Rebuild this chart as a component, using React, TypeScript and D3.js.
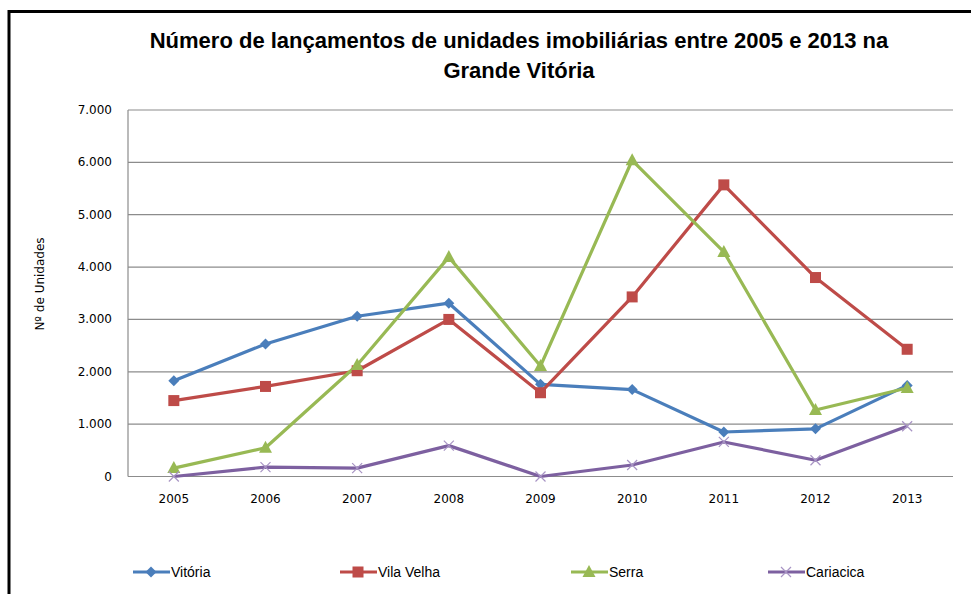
import React, { useEffect, useRef } from "react";
import * as d3 from "d3";

const years = ["2005", "2006", "2007", "2008", "2009", "2010", "2011", "2012", "2013"];
const vitoria = [1830, 2530, 3060, 3310, 1760, 1660, 850, 910, 1740];
const vilaVelha = [1450, 1720, 2020, 3000, 1600, 3430, 5570, 3800, 2430];
const serra = [160, 550, 2130, 4190, 2110, 6040, 4290, 1270, 1690];
const cariacica = [0, 180, 160, 590, 0, 220, 660, 310, 960];
const yTicks = [0, 1000, 2000, 3000, 4000, 5000, 6000, 7000];

const seriesList = [
  { name: "Vitória", values: vitoria, color: "#4A7EBB", marker: "diamond" },
  { name: "Vila Velha", values: vilaVelha, color: "#BE4B48", marker: "square" },
  { name: "Serra", values: serra, color: "#98B954", marker: "triangle" },
  { name: "Cariacica", values: cariacica, color: "#7D60A0", marker: "cross" },
];

const legendX = [133, 340, 571, 768];

function drawMarker(g: any, kind: string, x: number, y: number, color: string) {
  if (kind === "diamond") {
    g.append("path")
      .attr("d", `M${x},${y - 5.5}L${x + 5.5},${y}L${x},${y + 5.5}L${x - 5.5},${y}Z`)
      .attr("fill", color);
  } else if (kind === "square") {
    g.append("rect")
      .attr("x", x - 5.5).attr("y", y - 5.5)
      .attr("width", 11).attr("height", 11)
      .attr("fill", color);
  } else if (kind === "triangle") {
    g.append("path")
      .attr("d", `M${x},${y - 7}L${x + 6.5},${y + 5}L${x - 6.5},${y + 5}Z`)
      .attr("fill", color);
  } else {
    g.append("path")
      .attr("d", `M${x - 5},${y - 5}L${x + 5},${y + 5}M${x - 5},${y + 5}L${x + 5},${y - 5}`)
      .attr("stroke", "#A894C4")
      .attr("stroke-width", 1.2);
  }
}

export default function App() {
  const ref = useRef<SVGSVGElement>(null);

  useEffect(() => {
    const svg = d3.select(ref.current);
    svg.selectAll("*").remove();

    const left = 128, right = 953, top = 110, bottom = 476.5;
    const font = "'DejaVu Sans', Verdana, sans-serif";

    // frame
    svg.append("path")
      .attr("d", "M9,600V11.5H980")
      .attr("fill", "none")
      .attr("stroke", "#000")
      .attr("stroke-width", 3);

    // title
    const title = svg.append("text")
      .attr("text-anchor", "middle")
      .attr("font-family", "'Liberation Sans Narrow', 'Arial Narrow', sans-serif")
      .attr("font-weight", "bold")
      .attr("font-size", 22)
      .attr("fill", "#000");
    title.append("tspan").attr("x", 519).attr("y", 48)
      .text("Número de lançamentos de unidades imobiliárias entre 2005  e 2013 na");
    title.append("tspan").attr("x", 519).attr("y", 78).text("Grande Vitória");

    const xScale = d3.scalePoint().domain(years).range([left, right]).padding(0.5);
    const yScale = d3.scaleLinear().domain([0, 7000]).range([bottom, top]);

    const chart = svg.append("g");

    // gridlines
    chart.selectAll(".grid")
      .data(yTicks)
      .join("line")
      .attr("class", "grid")
      .attr("x1", left).attr("x2", right)
      .attr("y1", (d) => yScale(d)).attr("y2", (d) => yScale(d))
      .attr("stroke", "#8C8C8C")
      .attr("stroke-width", 1.2);

    chart.append("line")
      .attr("x1", left).attr("x2", left)
      .attr("y1", top).attr("y2", bottom)
      .attr("stroke", "#8C8C8C").attr("stroke-width", 1.2);

    // y tick labels
    chart.selectAll(".ylab")
      .data(yTicks)
      .join("text")
      .attr("class", "ylab")
      .attr("x", 112)
      .attr("y", (d) => yScale(d) + 4)
      .attr("text-anchor", "end")
      .attr("font-family", font)
      .attr("font-size", 12)
      .attr("fill", "#000")
      .text((d) => (d === 0 ? "0" : d3.format(",")(d).replace(",", ".")));

    // x tick labels
    chart.selectAll(".xlab")
      .data(years)
      .join("text")
      .attr("class", "xlab")
      .attr("x", (d) => xScale(d) as number)
      .attr("y", 503)
      .attr("text-anchor", "middle")
      .attr("font-family", font)
      .attr("font-size", 12)
      .attr("fill", "#000")
      .text((d) => d);

    // y axis title
    svg.append("text")
      .attr("transform", "translate(44,284) rotate(-90)")
      .attr("text-anchor", "middle")
      .attr("font-family", font)
      .attr("font-size", 12)
      .attr("fill", "#000")
      .text("Nº de Unidades");

    const line = d3.line<number>()
      .x((_, i) => xScale(years[i]) as number)
      .y((d) => yScale(d));

    seriesList.forEach((s) => {
      chart.append("path")
        .attr("d", line(s.values))
        .attr("fill", "none")
        .attr("stroke", s.color)
        .attr("stroke-width", 3.2)
        .attr("stroke-linejoin", "round");
    });
    seriesList.forEach((s) => {
      const mg = chart.append("g");
      s.values.forEach((v, i) => {
        drawMarker(mg, s.marker, xScale(years[i]) as number, yScale(v), s.color);
      });
    });

    // legend
    const legend = svg.append("g");
    seriesList.forEach((s, i) => {
      const lx = legendX[i];
      const ly = 572;
      legend.append("line")
        .attr("x1", lx).attr("x2", lx + 37)
        .attr("y1", ly).attr("y2", ly)
        .attr("stroke", s.color).attr("stroke-width", 3.2);
      drawMarker(legend, s.marker, lx + 18, ly, s.color);
      legend.append("text")
        .attr("x", lx + 38)
        .attr("y", ly + 5)
        .attr("font-family", "'Liberation Sans Narrow', 'Arial Narrow', sans-serif")
        .attr("font-size", 14)
        .attr("fill", "#000")
        .text(s.name);
    });
  }, []);

  return (
    <svg
      ref={ref}
      width={971}
      height={594}
      style={{ position: "absolute", left: 0, top: 0, background: "#fff" }}
    />
  );
}
